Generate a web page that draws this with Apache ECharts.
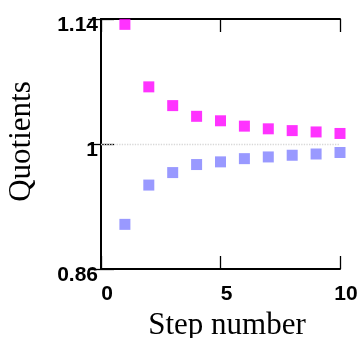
<!DOCTYPE html>
<html>
<head>
<meta charset="utf-8">
<script src="https://cdn.jsdelivr.net/npm/echarts@6/dist/echarts.min.js"></script>
<style>html,body{margin:0;padding:0;background:#fff}#c{width:359px;height:338px}</style>
</head>
<body>
<div id="c"></div>
<script>
var steps = [1, 2, 3, 4, 5, 6, 7, 8, 9, 10];
var upperQuotients = [1.134, 1.064, 1.043, 1.031, 1.026, 1.020, 1.017, 1.015, 1.0135, 1.0118];
var lowerQuotients = [0.910, 0.954, 0.968, 0.977, 0.980, 0.9836, 0.9855, 0.9874, 0.9888, 0.9905];
var xTicks = [0, 5, 10];
var yTicks = [0.86, 1, 1.14];
var xTitle = 'Step number';
var yTitle = 'Quotients';

var chart = echarts.init(document.getElementById('c'), null, {renderer: 'canvas'});
var tickFont = {fontFamily: 'Liberation Sans', fontWeight: 'bold', fontSize: 21, color: '#000'};
var titleFont = {fontFamily: 'Liberation Serif', fontSize: 31, color: '#000'};
function pairs(ys) { return steps.map(function (s, i) { return [s, ys[i]]; }); }

chart.setOption({
  animation: false,
  grid: {left: 101, right: 19, top: 19, bottom: 69, containLabel: false, outerBoundsMode: 'none'},
  xAxis: [{
    type: 'value', min: xTicks[0], max: xTicks[xTicks.length - 1], interval: 5, position: 'bottom',
    axisLine: {show: true, lineStyle: {color: '#000', width: 2}},
    axisTick: {show: true, inside: true, length: 13, lineStyle: {color: '#000', width: 1.3}},
    axisLabel: Object.assign({margin: 15, padding: [0, 0, 0, 12]}, tickFont),
    splitLine: {show: false},
    name: xTitle, nameLocation: 'middle', nameGap: 39,
    nameTextStyle: Object.assign({padding: [0, 0, 0, 13]}, titleFont)
  }, {
    type: 'value', min: xTicks[0], max: xTicks[xTicks.length - 1], interval: 5, position: 'top',
    axisLine: {show: true, lineStyle: {color: '#000', width: 2}},
    axisTick: {show: true, inside: true, length: 13, lineStyle: {color: '#000', width: 1.3}},
    axisLabel: {show: false}, splitLine: {show: false}
  }],
  yAxis: [{
    type: 'value', min: yTicks[0], max: yTicks[yTicks.length - 1], position: 'left',
    axisLine: {show: true, lineStyle: {color: '#000', width: 2}},
    axisTick: {show: true, inside: true, length: 13, customValues: yTicks, lineStyle: {color: '#000', width: 1.3}},
    axisLabel: Object.assign({margin: 3, customValues: yTicks, verticalAlign: 'top', lineHeight: 12,
      formatter: function (v) { return String(Math.round(v * 100) / 100); }}, tickFont),
    splitLine: {show: false},
    name: yTitle, nameLocation: 'middle', nameGap: 64,
    nameTextStyle: Object.assign({padding: [0, 0, 0, 5]}, titleFont)
  }, {
    type: 'value', min: yTicks[0], max: yTicks[yTicks.length - 1], position: 'right',
    axisLine: {show: true, lineStyle: {color: '#000', width: 2}},
    axisTick: {show: true, inside: true, length: 13, customValues: yTicks, lineStyle: {color: '#000', width: 1.3}},
    axisLabel: {show: false}, splitLine: {show: false}
  }],
  series: [{
    type: 'scatter', symbol: 'rect', symbolSize: 11, clip: true,
    itemStyle: {color: '#ff00ff'},
    data: pairs(upperQuotients),
    markLine: {silent: true, symbol: 'none', label: {show: false},
      lineStyle: {color: '#d8d8d8', type: 'dotted', width: 1.3},
      data: [{yAxis: 1}]}
  }, {
    type: 'scatter', symbol: 'rect', symbolSize: 11, clip: true,
    itemStyle: {color: '#8080ff'},
    data: pairs(lowerQuotients)
  }]
});
</script>
</body>
</html>
